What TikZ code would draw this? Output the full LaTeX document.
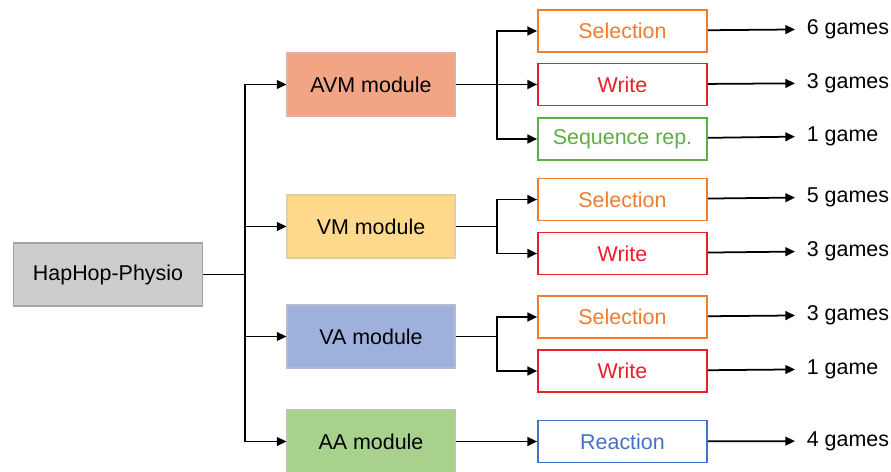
\documentclass[tikz,border=0pt]{standalone}
\usepackage{fontspec}
\setmainfont{Liberation Sans}
\usetikzlibrary{arrows.meta}

\definecolor{avmfill}{HTML}{F2A585}
\definecolor{vmfill}{HTML}{FFD98C}
\definecolor{vafill}{HTML}{9EB1DC}
\definecolor{aafill}{HTML}{A9D18E}
\definecolor{rootfill}{HTML}{CDCDCD}
\definecolor{selcol}{HTML}{ED7D31}
\definecolor{wrcol}{HTML}{E8202A}
\definecolor{seqcol}{HTML}{5FAD47}
\definecolor{reacol}{HTML}{4472C4}

\begin{document}
\begin{tikzpicture}[x=0.02cm,y=-0.02cm,
    font=\fontsize{12.2}{14}\selectfont,
    every path/.style={line width=1pt},
    conn/.style={-{Triangle[length=5.5pt,width=5pt]}},
    modbox/.style={draw=#1!80!black!60, fill=#1, minimum width=3.36cm, minimum height=1.26cm, line width=0.6pt},
    gamebox/.style={draw=#1, text=#1, fill=white, minimum width=3.38cm, minimum height=0.84cm, line width=1pt},
    count/.style={anchor=west, inner xsep=0.22cm}]
    \useasboundingbox (0,0) rectangle (891,472);

    % root and modules
    \node [draw=gray!70, fill=rootfill, minimum width=3.78cm, minimum height=1.26cm, line width=0.6pt] (hap) at (108,274.5) {HapHop-Physio};
    \node [modbox=avmfill] (avm) at (371,84.5) {AVM module};
    \node [modbox=vmfill] (vm) at (371,226.5) {VM module};
    \node [modbox=vafill] (va) at (371,336.5) {VA module};
    \node [modbox=aafill] (aa) at (371,441.5) {AA module};

    % game types
    \node [gamebox=selcol] (sel1) at (622.5,31) {Selection};
    \node [gamebox=wrcol] (wr1) at (622.5,84.5) {Write};
    \node [gamebox=seqcol] (seq1) at (622.5,139) {Sequence rep.};
    \node [gamebox=selcol] (sel2) at (622.5,199.5) {Selection};
    \node [gamebox=wrcol] (wr2) at (622.5,253.5) {Write};
    \node [gamebox=selcol] (sel3) at (622.5,317) {Selection};
    \node [gamebox=wrcol] (wr3) at (622.5,371) {Write};
    \node [gamebox=reacol] (rea1) at (622.5,441.5) {Reaction};

    % number of games
    \node [count] (n1) at (795,29) {6 games};
    \node [count] (n2) at (795,83) {3 games};
    \node [count] (n3) at (795,136) {1 game};
    \node [count] (n4) at (795,197) {5 games};
    \node [count] (n5) at (795,251) {3 games};
    \node [count] (n6) at (795,315) {3 games};
    \node [count] (n7) at (795,369) {1 game};
    \node [count] (n8) at (795,441) {4 games};

    % branching points
    \coordinate (trunk) at (245,274.5);
    \coordinate (avmsplit) at (497,84.5);
    \coordinate (vmsplit) at (497,226.5);
    \coordinate (vasplit) at (497,336.5);

    \draw (hap) -- (trunk);
    \draw [conn] (trunk) |- (avm);
    \draw [conn] (trunk) |- (vm);
    \draw [conn] (trunk) |- (va);
    \draw [conn] (trunk) |- (aa);

    \draw [conn] (avm) -- (wr1);
    \draw [conn] (avmsplit) |- (sel1);
    \draw [conn] (avmsplit) |- (seq1);
    \draw (vm) -- (vmsplit);
    \draw [conn] (vmsplit) |- (sel2);
    \draw [conn] (vmsplit) |- (wr2);
    \draw (va) -- (vasplit);
    \draw [conn] (vasplit) |- (sel3);
    \draw [conn] (vasplit) |- (wr3);
    \draw [conn] (aa) -- (rea1);

    \draw [conn] (sel1) -- (n1);
    \draw [conn] (wr1) -- (n2);
    \draw [conn] (seq1) -- (n3);
    \draw [conn] (sel2) -- (n4);
    \draw [conn] (wr2) -- (n5);
    \draw [conn] (sel3) -- (n6);
    \draw [conn] (wr3) -- (n7);
    \draw [conn] (rea1) -- (n8);
\end{tikzpicture}
\end{document}
